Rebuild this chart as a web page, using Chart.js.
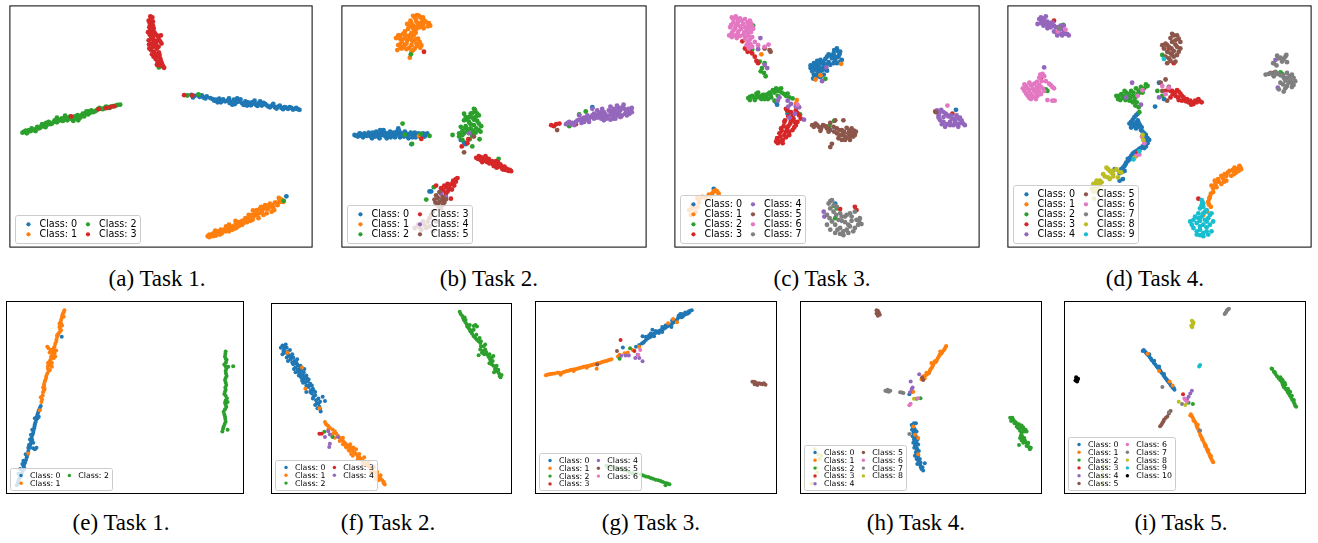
<!DOCTYPE html>
<html>
<head>
<meta charset="utf-8">
<script src="https://cdn.jsdelivr.net/npm/chart.js@4.4.1/dist/chart.umd.min.js"></script>
<style>
  html, body { margin: 0; padding: 0; background: #fff; }
  body { width: 1318px; height: 543px; position: relative; overflow: hidden; }
  canvas.panel { position: absolute; }
  .cap { position: absolute; width: 220px; text-align: center; font-family: "Liberation Serif", "Times New Roman", serif;
         font-size: 23px; line-height: 23px; color: #000; white-space: nowrap; }
</style>
</head>
<body>
<script>
// Embedding coordinates of each class (flat lists of x, y pairs).

// (a) Task 1
const A0 = [575,282, 585,285, 600,288, 612,290, 622,287, 640,295, 650,297, 660,300, 672,296, 685,300, 695,303, 705,297, 712,305, 722,300, 730,308, 740,302, 752,310, 760,305, 772,312, 780,308, 790,315, 800,310, 810,318, 820,315, 830,320, 840,318, 850,322, 860,320, 870,325, 880,322, 890,325, 900,326, 700,312, 745,315, 655,305, 825,310, 785,302, 690,293, 715,293, 487,195, 865,593,
  580,290, 595,283, 607,284, 618,293, 645,300, 665,305, 678,302, 692,307, 708,310, 718,303, 735,313, 748,305, 757,314, 766,308, 777,316, 795,307, 805,314, 815,320, 835,324, 845,315, 855,326, 865,322, 875,320, 885,327, 895,322, 905,328, 633,292, 660,294, 725,296, 768,300];
const A1 = [625,715, 635,712, 645,705, 650,713, 660,700, 668,706, 675,695, 685,690, 690,700, 700,685, 710,678, 712,690, 722,672, 730,680, 738,665, 745,672, 752,658, 762,665, 770,650, 775,635, 780,660, 790,640, 800,630, 805,645, 815,625, 825,628, 830,612, 838,620, 845,610, 852,605, 770,640, 760,650, 740,660, 720,684, 700,695, 800,620, 815,615, 690,680, 655,700, 640,708, 820,640, 785,630, 763,636, 630,718, 710,668, 795,650, 842,598,
  630,710, 642,715, 648,698, 662,710, 672,700, 680,700, 695,690, 705,692, 715,680, 728,672, 735,675, 748,662, 755,668, 765,655, 775,650, 782,645, 792,635, 808,632, 812,620, 822,620, 835,612, 848,602, 855,610, 730,668, 750,650, 717,675, 681,685, 665,695, 788,625, 828,635];
const A2 = [60,398, 70,392, 80,390, 88,385, 98,388, 105,380, 115,382, 125,378, 135,374, 140,365, 150,370, 158,360, 165,366, 175,358, 183,362, 192,356, 200,352, 210,356, 220,348, 228,344, 236,352, 244,340, 252,338, 260,342, 270,330, 280,333, 290,326, 300,325, 310,322, 320,320, 330,318, 345,315, 358,312, 120,372, 215,362, 230,360, 262,333, 100,393, 165,352, 190,346, 476,198, 563,284, 597,281, 857,607,
  65,395, 75,397, 85,393, 93,390, 110,385, 118,377, 130,381, 145,372, 155,365, 170,362, 180,354, 188,357, 197,360, 205,349, 215,350, 225,355, 240,345, 248,348, 255,333, 265,338, 275,335, 285,330, 295,322, 305,326, 315,318, 325,322, 335,317, 350,313, 73,400, 132,368];
const A3 = [450,42, 456,45, 445,55, 458,58, 452,68, 447,75, 460,78, 455,88, 465,95, 448,98, 470,100, 482,100, 458,105, 445,115, 462,115, 475,112, 452,125, 468,128, 484,125, 458,135, 447,140, 470,140, 462,150, 476,152, 455,158, 468,165, 480,170, 472,180, 485,185, 478,192, 492,199, 466,172, 460,120, 453,85, 553,283, 578,284, 208,348, 292,326, 315,323, 328,320, 340,317,
  452,50, 448,62, 458,70, 450,82, 462,90, 443,90, 455,95, 475,105, 452,110, 468,118, 480,118, 446,128, 462,132, 475,135, 452,145, 465,158, 478,160, 470,190, 482,178, 460,165, 488,193];

// (b) Task 2
const B0 = [62,405, 72,410, 80,402, 88,412, 95,405, 105,398, 112,410, 120,404, 128,395, 135,410, 142,400, 150,390, 155,408, 165,402, 172,412, 180,398, 188,405, 195,385, 200,412, 208,400, 215,395, 222,408, 230,402, 238,412, 245,398, 252,405, 260,410, 270,400, 278,405, 190,395, 140,390, 115,415, 160,415, 235,433, 385,420, 395,428, 400,433, 785,320, 290,578, 295,578,
  67,407, 77,400, 84,408, 92,400, 100,408, 108,403, 117,398, 125,410, 132,402, 138,415, 147,405, 153,398, 160,400, 168,408, 176,405, 185,412, 193,400, 203,405, 212,410, 218,400, 226,415, 233,398, 242,405, 248,412, 256,400, 265,405, 275,410, 283,400, 198,393, 170,395];
const B1 = [240,40, 252,38, 262,45, 248,50, 232,55, 275,55, 288,62, 270,68, 255,62, 222,65, 240,70, 285,72, 260,75, 225,80, 245,85, 235,92, 210,95, 195,100, 188,108, 200,110, 215,105, 228,110, 242,100, 255,110, 205,120, 220,125, 238,118, 250,125, 195,130, 212,135, 228,138, 245,140, 262,138, 192,145, 235,150, 230,168, 218,100, 205,140, 270,45, 250,80, 258,408, 797,344,
  245,45, 258,40, 268,52, 280,60, 292,70, 265,62, 250,58, 235,62, 228,72, 252,72, 272,78, 240,78, 215,88, 230,100, 248,92, 200,100, 208,112, 222,115, 235,110, 248,112, 260,120, 200,128, 215,128, 235,130, 252,132, 202,138, 220,142, 240,145, 265,130];
const B2 = [425,325, 430,335, 415,340, 400,350, 440,345, 420,352, 395,360, 410,365, 435,362, 447,378, 425,375, 400,378, 415,385, 440,390, 390,392, 405,395, 430,398, 395,340, 385,380, 360,405, 380,400, 442,418, 412,418, 420,440, 390,420, 380,410, 500,478, 233,158, 208,370, 215,404, 237,432, 263,402, 290,408, 745,342, 765,333, 715,378, 303,565, 280,603,
  428,328, 420,338, 435,340, 410,350, 430,350, 405,358, 425,358, 415,372, 440,370, 432,385, 408,388, 422,392, 445,395, 398,385, 395,400, 418,400, 420,408, 390,405];
const B3 = [432,475, 440,470, 445,482, 455,478, 460,470, 465,488, 475,485, 480,492, 490,490, 495,498, 500,502, 505,495, 510,505, 515,510, 522,508, 530,515, 538,516, 470,478, 485,500, 462,480, 450,488, 498,488, 518,502, 375,537, 370,548, 360,552, 345,555, 365,560, 335,560, 350,570, 325,568, 340,585, 355,600, 330,598, 310,560, 273,150, 265,417, 408,418, 388,440, 405,430, 660,375, 668,378, 675,372, 685,370, 735,372, 872,348,
  437,478, 448,474, 452,485, 458,484, 468,482, 472,492, 480,485, 488,495, 492,485, 502,495, 508,500, 512,510, 520,512, 526,510, 534,512, 494,505, 362,545, 352,558, 340,565, 332,575, 345,578, 358,572, 370,540];
const B4 = [705,372, 715,365, 725,368, 740,360, 755,355, 765,358, 770,345, 780,350, 790,340, 800,352, 810,345, 820,335, 830,350, 835,330, 845,340, 850,325, 855,355, 862,345, 870,330, 878,320, 885,340, 892,328, 900,330, 905,322, 880,312, 860,315, 840,358, 820,360, 800,330, 815,325, 785,325, 775,365, 752,368, 730,375, 745,345, 870,350, 890,345, 840,318, 410,400, 340,595, 325,585,
  710,368, 720,372, 735,365, 748,358, 760,352, 768,352, 775,355, 785,345, 795,345, 805,340, 812,335, 818,348, 825,342, 838,345, 842,332, 850,345, 855,335, 865,338, 868,322, 875,345, 882,325, 888,335, 895,325, 898,340, 905,335, 858,325, 848,355, 828,355, 812,355, 790,355, 760,365];
const B5 = [320,580, 310,590, 330,595, 305,603, 320,610, 340,602, 315,620, 325,630, 300,640, 290,660, 270,670, 280,690, 255,680, 265,695, 245,690, 300,700, 310,670, 395,458, 425,410, 678,390,
  315,598, 328,605, 335,612, 308,612, 318,625, 330,620, 295,650, 285,670, 275,682, 260,688, 290,685];

// (c) Task 3
const C0 = [520,140, 530,150, 510,155, 495,158, 525,165, 505,170, 485,172, 470,175, 515,178, 495,182, 475,185, 460,188, 440,192, 455,195, 480,195, 500,190, 530,180, 460,205, 445,210, 470,210, 490,208, 455,222, 470,228, 448,232, 480,220, 535,175, 460,178, 370,340, 335,305, 338,312, 883,328, 515,615, 500,390, 145,570,
  522,148, 512,145, 528,158, 518,168, 502,162, 490,165, 478,180, 465,182, 450,185, 448,198, 465,195, 488,188, 510,185, 520,185, 468,200, 455,205, 478,205, 462,215, 450,220, 462,225, 440,200, 515,165];
const C1 = [145,578, 155,578, 140,585, 160,585, 130,588, 110,595, 95,598, 80,620, 70,635, 90,640, 75,650, 100,612, 533,187, 470,222, 455,235, 290,158, 398,298, 395,310,
  150,575, 135,592, 120,598, 100,605, 88,625, 78,630, 95,625];
const C2 = [250,292, 262,285, 275,278, 285,290, 295,282, 305,288, 315,275, 325,268, 335,262, 345,270, 320,290, 300,295, 270,298, 340,285, 360,280, 375,290, 385,293, 280,275, 350,262, 330,300, 265,70, 262,143, 285,180, 300,185, 288,210, 298,215, 303,225, 292,200, 485,233, 368,330, 408,342, 512,362, 497,377, 510,622, 520,630, 515,660,
  255,288, 268,290, 278,285, 290,285, 300,282, 310,280, 318,282, 330,275, 338,270, 352,275, 365,285, 370,278, 290,295, 255,298, 310,295, 275,290, 340,265];
const C3 = [365,325, 380,335, 395,330, 405,345, 372,348, 388,355, 410,355, 360,365, 378,370, 395,375, 350,385, 368,385, 385,390, 345,400, 360,405, 375,405, 338,415, 355,420, 340,430, 365,395, 400,365, 232,118, 248,150, 262,155, 270,165, 275,178, 280,185, 255,148, 240,140, 820,333, 872,340, 575,625, 580,635, 530,632,
  370,330, 385,345, 400,338, 380,362, 392,365, 372,378, 358,378, 352,392, 375,395, 390,382, 348,410, 365,412, 345,425, 335,425, 355,430, 362,360];
const C4 = [825,330, 838,328, 852,340, 830,345, 845,350, 860,348, 870,355, 885,345, 895,352, 880,365, 900,368, 910,375, 875,375, 890,380, 840,372, 850,380, 835,360, 865,365, 900,360, 287,108, 280,142, 300,190, 308,200, 488,198, 475,240, 345,290, 340,300, 370,300, 380,310, 372,318, 395,318, 405,320, 420,358, 375,352, 392,340, 480,640, 482,655,
  832,338, 845,335, 858,345, 868,345, 878,355, 890,355, 905,370, 892,370, 882,372, 865,375, 855,372, 845,365, 830,352];
const C5 = [445,375, 455,370, 465,380, 478,375, 490,385, 470,392, 500,368, 540,360, 520,385, 535,390, 550,383, 565,385, 578,395, 520,400, 535,405, 555,400, 570,410, 525,415, 545,420, 560,420, 505,432, 500,442, 495,395, 510,380, 515,360, 315,145, 318,150, 300,140, 822,335,
  450,380, 460,375, 472,385, 485,378, 495,385, 528,390, 542,395, 558,392, 572,392, 528,405, 545,410, 560,410, 575,405, 535,420, 552,413, 512,395, 540,400, 565,400];
const C6 = [200,45, 212,42, 225,48, 240,50, 255,55, 205,60, 218,62, 235,65, 250,68, 262,72, 195,75, 210,78, 228,80, 245,85, 258,90, 200,92, 218,95, 235,98, 250,100, 262,105, 192,100, 215,108, 240,110, 255,125, 262,135, 270,120, 245,130, 252,140, 300,135, 312,128, 280,130, 265,80, 400,312, 857,315,
  205,50, 218,52, 230,55, 248,60, 258,62, 198,68, 212,70, 225,72, 240,75, 252,78, 205,85, 220,88, 238,90, 250,92, 210,100, 225,102, 242,105, 200,105, 255,112, 248,120, 258,130];
const C7 = [505,605, 495,615, 520,625, 510,640, 490,650, 530,645, 545,655, 560,645, 575,640, 590,660, 525,665, 545,672, 565,668, 585,680, 505,670, 490,680, 530,690, 550,695, 570,700, 540,712, 515,705, 500,695, 560,685, 595,678,
  500,608, 512,620, 500,630, 518,650, 535,655, 550,650, 565,655, 580,665, 535,668, 555,680, 575,690, 515,680, 522,695, 540,700, 555,705, 530,708, 588,668, 498,660];

// (d) Task 4
const D0 = [420,345, 410,358, 425,360, 400,370, 415,372, 432,375, 420,385, 435,390, 445,400, 440,410, 455,415, 448,425, 455,430, 440,440, 430,448, 420,455, 410,462, 405,470, 400,480, 390,490, 385,500, 375,510, 385,515, 370,522, 425,340, 405,382, 450,440, 490,245, 478,318, 505,295, 355,510, 380,540, 370,545,
  415,350, 405,365, 420,368, 428,368, 410,378, 425,380, 440,395, 450,405, 448,415, 460,420, 450,432, 445,445, 435,445, 425,452, 415,458, 408,468, 402,475, 395,485, 388,495, 380,505, 378,518, 395,478, 437,382];
const D1 = [735,500, 740,510, 720,505, 705,515, 725,520, 690,525, 710,530, 680,530, 670,540, 695,545, 660,545, 680,555, 650,560, 665,565, 655,580, 645,595, 640,610, 648,625, 637,640, 625,650,
  738,505, 728,510, 715,512, 700,520, 718,525, 695,530, 685,538, 672,548, 688,548, 662,555, 655,568, 648,585, 643,600, 642,618, 732,515];
const D2 = [360,285, 375,280, 390,275, 405,270, 420,262, 435,258, 450,250, 365,295, 380,292, 395,290, 410,285, 425,280, 440,270, 415,300, 400,300, 385,270, 418,315, 428,320, 440,275, 198,68, 500,160, 150,270, 145,265, 860,213, 865,218, 485,270, 500,285, 430,335,
  368,285, 382,285, 398,280, 412,275, 428,270, 445,262, 455,255, 372,298, 388,298, 403,292, 418,290, 432,275, 410,305, 422,305];
const D3 = [520,265, 530,270, 545,268, 555,278, 540,285, 565,290, 575,295, 585,300, 600,300, 615,302, 595,310, 580,305, 560,300, 550,298, 525,290, 510,270, 170,55, 520,140, 535,185, 130,230, 840,215, 610,600, 425,460,
  525,270, 538,275, 550,272, 560,285, 548,290, 570,298, 590,305, 605,305, 610,295, 620,305, 588,312, 572,302, 532,280];
const D4 = [130,45, 145,42, 135,55, 150,58, 120,65, 138,70, 155,68, 165,60, 175,75, 190,70, 185,85, 200,90, 210,95, 195,100, 180,100, 170,88, 150,78, 215,100, 200,70, 140,198, 838,185, 845,175, 852,260, 408,245, 390,290, 435,312, 490,290,
  125,50, 140,48, 130,62, 145,65, 160,62, 170,70, 182,75, 192,80, 205,95, 190,95, 178,92, 160,75, 140,58];
const D5 = [530,95, 545,100, 525,108, 540,115, 555,120, 510,125, 500,130, 520,135, 545,135, 535,148, 515,150, 530,160, 545,160, 520,170, 515,185, 540,180, 555,140, 505,140, 510,235, 495,245, 500,270, 515,300, 520,258,
  535,100, 550,110, 530,120, 515,130, 540,128, 528,140, 550,150, 525,155, 535,165, 525,178, 510,165];
const D6 = [80,250, 95,245, 110,248, 125,252, 75,262, 90,262, 105,262, 120,265, 135,262, 85,278, 100,280, 115,275, 130,280, 95,292, 110,290, 125,230, 135,218, 145,240, 160,252, 170,262, 150,298, 172,300, 140,225, 128,220, 182,88, 205,82, 440,268, 425,285, 520,260, 500,255, 510,280, 438,410, 445,430, 430,465, 420,470,
  85,255, 100,252, 118,258, 130,258, 80,270, 95,270, 110,270, 125,272, 140,270, 90,285, 105,285, 120,285, 100,295, 115,295, 132,240, 155,248, 165,258, 165,300, 130,225, 118,242];
const D7 = [850,162, 860,168, 875,165, 865,180, 880,182, 840,185, 830,215, 815,220, 845,212, 860,222, 880,215, 895,220, 870,230, 890,238, 905,240, 860,245, 880,255, 900,252, 855,265, 870,272, 840,225, 185,78,
  855,170, 870,172, 878,160, 848,192, 825,218, 838,220, 852,218, 868,222, 888,225, 900,230, 875,238, 885,245, 895,245, 868,250, 875,262, 895,258, 880,230];
const D8 = [330,505, 340,515, 360,510, 375,520, 350,525, 320,525, 335,535, 365,535, 300,545, 315,550, 290,555, 305,565, 285,570, 300,580, 292,600, 440,405, 442,420, 415,475,
  335,510, 348,515, 368,518, 345,520, 325,532, 350,532, 340,540, 310,545, 298,552, 308,558, 295,565, 290,578, 305,575];
const D9 = [620,605, 625,615, 615,630, 630,640, 650,645, 600,655, 620,655, 640,660, 585,670, 605,675, 625,680, 645,680, 595,690, 615,695, 635,700, 605,710, 625,715, 650,700, 505,172, 412,480, 430,455,
  622,610, 620,620, 625,625, 635,635, 610,645, 625,645, 645,650, 610,660, 630,665, 595,665, 615,668, 635,670, 655,670, 590,680, 615,685, 635,688, 605,700, 625,705, 615,712, 640,710];

// (e) Task 1
const E0 = [118,342, 112,355, 108,368, 112,375, 104,385, 100,398, 98,410, 95,425, 90,440, 88,455, 85,470, 100,475, 78,490, 75,500, 70,515, 65,525, 68,535, 60,548, 55,560, 50,572, 45,585, 82,462, 182,130,
  115,348, 110,362, 106,375, 108,380, 102,392, 99,404, 96,418, 92,432, 92,446, 86,462, 80,480, 95,472, 76,495, 73,508, 68,520, 67,530, 63,540, 58,555, 52,565, 48,578,
  100,380, 92,415, 88,430, 85,445, 95,455, 80,470, 72,490, 65,510, 62,520, 55,535, 50,550, 105,470];
const E1 = [190,48, 185,60, 182,72, 178,85, 183,95, 175,100, 180,110, 172,120, 168,130, 165,145, 160,160, 155,168, 148,175, 155,185, 150,195, 145,205, 152,210, 140,220, 142,235, 135,250, 132,262, 128,275, 130,290, 125,300, 122,322, 160,180, 138,160, 115,355, 80,488, 58,578,
  188,55, 183,66, 180,78, 180,90, 178,97, 177,105, 176,115, 170,125, 166,138, 162,152, 158,164, 152,172, 152,180, 150,190, 148,200, 148,208, 145,215, 140,228, 138,242, 134,256, 130,268, 128,282, 127,295, 124,310, 120,330, 158,175, 145,178,
  142,165, 150,170, 165,172, 158,195, 162,190, 140,210, 152,222, 146,232, 168,125, 175,90, 188,68, 125,285, 118,315];
const E2 = [682,175, 680,190, 685,200, 678,215, 690,222, 705,220, 682,235, 685,250, 680,262, 684,278, 682,292, 678,305, 686,318, 680,332, 684,345, 676,360, 680,375, 682,390, 676,405, 672,420, 688,415, 688,330,
  681,182, 682,197, 683,208, 682,220, 684,228, 683,242, 682,256, 682,270, 681,285, 680,298, 682,311, 682,325, 682,338, 680,352, 678,368, 681,382, 679,397, 674,412];

// (f) Task 2
const F0 = [55,158, 65,155, 60,170, 70,178, 75,190, 85,185, 80,200, 92,205, 100,215, 95,225, 108,230, 120,240, 130,258, 125,270, 140,275, 135,285, 148,290, 155,300, 150,315, 165,320, 160,335, 168,345, 172,360, 185,328, 115,265, 145,305,
  60,162, 58,175, 68,165, 72,185, 80,192, 88,195, 85,210, 97,210, 103,220, 102,232, 112,235, 118,250, 128,250, 122,260, 132,268, 138,280, 142,295, 150,295, 155,310, 158,325, 165,335, 170,352, 78,172, 110,245,
  50,165, 62,180, 55,185, 68,195, 72,205, 88,215, 95,240, 105,250, 112,255, 118,272, 128,280, 140,300, 148,320, 155,340, 162,350, 90,230, 100,200, 110,220, 122,230, 135,262, 145,280, 128,300, 120,255, 105,240, 170,330, 178,315];
const F1 = [185,392, 192,402, 200,410, 215,420, 225,435, 235,445, 245,455, 255,465, 265,470, 270,480, 280,490, 290,500, 300,510, 310,520, 320,530, 330,540, 340,550, 350,560, 360,570, 368,583, 265,490, 280,475, 70,180, 115,225, 125,290, 168,350,
  188,398, 196,405, 208,415, 220,428, 230,440, 240,450, 250,460, 260,468, 268,475, 275,485, 285,495, 295,505, 305,515, 315,525, 325,535, 335,545, 345,555, 355,565, 364,578, 240,460, 270,495, 300,520, 330,548, 348,570, 260,480,
  195,415, 210,428, 230,450, 248,465, 258,478, 272,470, 290,490, 305,500, 318,515, 335,530, 345,545, 355,555, 365,575, 340,565, 325,545, 285,505, 262,460, 240,440, 215,440, 250,470];
const F2 = [597,55, 605,68, 610,80, 618,92, 625,105, 630,115, 645,95, 640,130, 650,140, 660,150, 655,188, 665,180, 675,170, 680,185, 690,200, 695,215, 700,190, 705,230, 715,240, 720,252, 710,235, 183,422, 208,438,
  600,62, 608,75, 614,86, 622,98, 628,110, 635,122, 645,135, 655,145, 662,160, 668,175, 672,185, 685,192, 692,208, 700,220, 708,228, 718,245, 722,255, 650,100, 660,170, 635,112,
  615,80, 620,100, 628,95, 640,110, 648,125, 658,135, 662,145, 670,160, 675,155, 678,178, 688,185, 695,195, 698,205, 710,220, 715,232, 725,248, 702,240, 688,212, 640,98, 612,72];
const F3 = [168,428, 175,428];
const F4 = [195,420, 200,430, 185,438, 225,438, 200,458, 198,468];

// (g) Task 3
const G0 = [495,50, 488,58, 478,62, 470,70, 460,65, 455,78, 445,85, 435,95, 425,98, 415,105, 405,110, 395,115, 385,120, 375,130, 365,135, 355,145, 348,150, 330,160, 350,128, 380,108, 440,80, 290,163,
  492,55, 483,60, 474,66, 465,70, 450,82, 440,90, 430,95, 420,102, 410,108, 400,112, 390,118, 380,125, 370,132, 360,140, 352,148, 340,155, 465,60, 420,95, 400,118, 370,125,
  360,130, 375,120, 390,112, 410,100, 428,92, 445,78, 458,72, 470,60, 480,55, 490,52, 500,48, 385,128, 410,115, 438,100];
const G1 = [55,248, 65,245, 75,243, 90,240, 100,242, 110,238, 120,235, 130,232, 140,230, 150,228, 160,225, 170,222, 180,220, 190,218, 200,215, 210,212, 220,210, 230,206, 240,204, 250,200, 210,228, 280,185, 295,180, 305,178, 275,190, 340,160, 320,170, 443,75, 455,85, 428,88,
  60,246, 70,244, 82,242, 95,240, 105,240, 115,236, 125,234, 135,231, 145,229, 155,226, 165,224, 175,221, 185,219, 195,216, 205,214, 215,211, 225,208, 235,205, 245,202, 255,199, 180,225, 140,235, 100,246];
const G2 = [345,552, 360,558, 375,563, 390,568, 405,572, 420,578, 432,582, 320,548, 300,540, 280,535, 260,530, 240,525, 280,197, 312,165,
  352,555, 368,560, 382,565, 398,570, 412,575, 426,580, 332,550, 310,545, 290,538, 270,532, 250,528, 420,585];
const G3 = [283,140, 325,173];
const G4 = [285,188, 298,187, 308,187, 335,185, 340,195, 350,205, 328,195];
const G5 = [685,268, 695,270, 705,272, 715,275, 725,277, 700,278, 212,215, 272,173, 690,268, 710,274, 720,272, 692,275];
const G6 = [343,170, 337,185];

// (h) Task 4
const H0 = [372,395, 368,405, 375,415, 370,425, 378,435, 372,445, 380,455, 375,465, 382,475, 378,485, 385,495, 380,505, 388,515, 392,525, 395,535, 405,518, 418,240, 358,306,
  370,400, 372,410, 372,420, 374,430, 375,440, 378,450, 377,460, 380,470, 380,480, 382,490, 382,500, 385,510, 390,520, 393,530, 378,395,
  365,400, 366,415, 380,420, 368,435, 383,445, 370,455, 385,460, 373,470, 387,480, 375,495, 390,505, 392,515, 382,520, 398,530, 400,540];
const H1 = [470,158, 465,168, 458,178, 450,185, 445,195, 440,205, 432,212, 428,222, 422,230, 418,240, 408,248, 400,252, 395,260, 405,258, 410,240, 425,210, 370,298, 365,300, 370,405, 375,430, 385,440, 385,490,
  468,162, 462,172, 455,182, 448,190, 442,200, 437,208, 430,217, 425,226, 420,235, 413,244, 403,250, 398,256, 435,205, 452,175];
const H2 = [665,378, 675,385, 685,395, 700,402, 690,410, 712,415, 700,425, 695,440, 710,448, 718,460, 725,475, 705,455, 692,462, 392,318, 380,320,
  670,382, 680,390, 692,398, 705,408, 708,420, 698,432, 702,445, 714,454, 722,468, 695,418,
  668,388, 678,395, 688,402, 695,410, 705,415, 715,420, 702,435, 708,440, 715,465, 720,455, 728,470, 685,405, 672,378, 700,448];
const H3 = [];
const H4 = [362,267, 365,290, 360,300, 368,285, 388,245];
const H5 = [258,48, 265,55, 262,65, 258,58, 268,62, 397,255, 400,262, 262,50, 263,60];
const H6 = [384,318, 358,340, 362,335];
const H7 = [285,295, 295,298, 300,295, 330,300, 340,302, 358,428, 290,297, 335,301, 292,292];
const H8 = [372,320, 70,475, 80,490, 90,495, 75,530, 78,545, 70,560, 60,580, 85,505];

// (i) Task 5
const I0 = [268,172, 275,180, 282,188, 290,198, 295,205, 300,212, 308,222, 315,230, 320,238, 328,248, 335,258, 340,265, 348,275, 355,285, 362,293,
  272,176, 278,184, 286,193, 292,202, 298,208, 304,217, 311,226, 318,234, 324,243, 331,253, 338,262, 344,270, 351,280, 358,289,
  265,175, 285,185, 300,205, 315,222, 330,245, 345,268, 360,288];
const I1 = [412,368, 418,380, 425,392, 430,405, 435,415, 440,430, 445,440, 452,455, 458,465, 462,478, 468,490, 472,500, 478,512, 280,183, 315,236, 347,268, 356,280,
  415,374, 421,386, 428,398, 432,410, 438,422, 442,435, 448,448, 455,460, 460,472, 465,484, 470,495, 475,506,
  410,372, 420,388, 433,400, 437,420, 447,445, 455,465, 465,478, 473,495, 480,515];
const I2 = [660,230, 670,245, 680,258, 690,270, 695,285, 705,295, 710,305, 718,318, 725,330, 730,342, 700,278, 715,300, 405,333, 418,337,
  665,238, 675,252, 685,264, 692,278, 700,290, 707,300, 714,312, 721,324, 728,336, 690,262,
  658,228, 668,240, 685,255, 692,265, 698,272, 708,290, 712,298, 720,312, 726,325, 733,345, 695,282];
const I3 = [388,307];
const I4 = [415,296, 410,305, 405,315, 400,322];
const I5 = [350,358, 340,375, 330,385, 325,395, 318,405, 345,366, 335,380, 328,390, 322,400];
const I6 = [395,325, 400,330, 392,320];
const I7 = [518,58, 522,50, 528,46, 515,62, 325,285, 440,418, 385,337, 345,362, 520,55, 525,48];
const I8 = [415,82, 418,92, 416,102, 420,88, 413,98, 375,330, 395,340, 145,525, 142,540, 138,560, 140,580, 417,85, 417,95];
const I9 = [437,222, 440,218];
const I10 = [62,255, 68,260, 65,268, 60,265, 64,258, 66,263];

// Class palette (tab10, then black for an eleventh class).
const CLASS_COLORS = ['#1f77b4', '#ff7f0e', '#2ca02c', '#d62728', '#9467bd', '#8c564b', '#e377c2', '#7f7f7f', '#bcbd22', '#17becf', '#000000'];

// Sub-figure layout: page origin, axis limits [xmin, ymin, xmax, ymax], caption.
const PANELS = [
  { classes: [A0, A1, A2, A3],                          origin: [0, 0],      lim: [20, 8, 945, 750], caption: '(a) Task 1.', capX: 157, row: 0 },
  { classes: [B0, B1, B2, B3, B4, B5],                  origin: [332, 0],    lim: [22, 8, 950, 750], caption: '(b) Task 2.', capX: 489, row: 0 },
  { classes: [C0, C1, C2, C3, C4, C5, C6, C7],          origin: [664, 0],    lim: [25, 8, 955, 750], caption: '(c) Task 3.', capX: 822, row: 0 },
  { classes: [D0, D1, D2, D3, D4, D5, D6, D7, D8, D9],  origin: [996, 0],    lim: [28, 8, 955, 750], caption: '(d) Task 4.', capX: 1155, row: 0 },
  { classes: [E0, E1, E2],                              origin: [0, 292],    lim: [12, 20, 738, 612], caption: '(e) Task 1.', capX: 121, row: 1 },
  { classes: [F0, F1, F2, F3, F4],                      origin: [262, 292],  lim: [20, 28, 757, 612], caption: '(f) Task 2.', capX: 388, row: 1 },
  { classes: [G0, G1, G2, G3, G4, G5, G6],              origin: [526, 292],  lim: [22, 20, 760, 612], caption: '(g) Task 3.', capX: 651, row: 1 },
  { classes: [H0, H1, H2, H3, H4, H5, H6, H7, H8],      origin: [790, 292],  lim: [25, 20, 762, 612], caption: '(h) Task 4.', capX: 916, row: 1 },
  { classes: [I0, I1, I2, I3, I4, I5, I6, I7, I8, I9, I10], origin: [1054, 292], lim: [25, 22, 763, 612], caption: '(i) Task 5.', capX: 1181, row: 1 }
];

// Style of each row of sub-figures.
const ROW_STYLE = [
  { pointRadius: 2.4, legendFont: 9.6, legendRow: 10.0, legendDot: 2.1, capBaseline: 286 },
  { pointRadius: 2.0, legendFont: 7.8, legendRow: 7.8,  legendDot: 1.7, capBaseline: 530 }
];

function toPoints(flat) {
  const out = [];
  for (let i = 0; i + 1 < flat.length; i += 2) out.push({ x: flat[i], y: flat[i + 1] });
  return out;
}

// Thin black frame around the plotting area.
const framePlugin = {
  id: 'frame',
  afterDraw(chart) {
    const { ctx, chartArea: a } = chart;
    ctx.save();
    ctx.strokeStyle = '#000';
    ctx.lineWidth = 1;
    ctx.strokeRect(a.left + 0.5, a.top + 0.5, a.right - a.left - 1, a.bottom - a.top - 1);
    ctx.restore();
  }
};

// Two-column legend in the lower-left corner of the axes, filled column by column.
const classLegend = {
  id: 'classLegend',
  afterDatasetsDraw(chart, args, opts) {
    const { ctx, chartArea: a } = chart;
    const sets = chart.data.datasets;
    const f = opts.font, rowH = opts.row;
    const nrows = Math.ceil(sets.length / 2);
    ctx.save();
    ctx.font = f + 'px "DejaVu Sans"';
    const col2W = Math.max(...sets.slice(nrows).map(d => ctx.measureText(d.label).width));
    const colStep = 6.2 * f;
    const w = colStep + 2.5 * f + col2W + 0.4 * f;
    const h = nrows * rowH + 0.8 * f;
    const x0 = Math.round(a.left + 0.55 * f) + 0.5;
    const y0 = Math.round(a.bottom - 0.5 * f - h) + 0.5;
    ctx.beginPath();
    ctx.roundRect(x0, y0, Math.round(w), Math.round(h), 0.25 * f);
    ctx.fillStyle = 'rgba(255,255,255,0.8)';
    ctx.fill();
    ctx.strokeStyle = '#cccccc';
    ctx.lineWidth = 1;
    ctx.stroke();
    ctx.textBaseline = 'middle';
    sets.forEach((d, i) => {
      const c = Math.floor(i / nrows), r = i % nrows;
      const cy = y0 + 0.4 * f + rowH * (r + 0.5);
      const cx = x0 + c * colStep;
      ctx.fillStyle = d.backgroundColor;
      ctx.beginPath();
      ctx.arc(cx + 1.35 * f, cy, opts.dot, 0, Math.PI * 2);
      ctx.fill();
      ctx.fillStyle = '#000';
      ctx.fillText(d.label, cx + 2.5 * f, cy + 0.5);
    });
    ctx.restore();
  }
};

PANELS.forEach(p => {
  const st = ROW_STYLE[p.row];
  const [xmin, ymin, xmax, ymax] = p.lim;
  const left = Math.round(p.origin[0] + xmin / 3);
  const top = Math.round(p.origin[1] + ymin / 3);
  const width = Math.round(p.origin[0] + xmax / 3) - left;
  const height = Math.round(p.origin[1] + ymax / 3) - top;

  const cv = document.createElement('canvas');
  cv.className = 'panel';
  cv.width = width; cv.height = height;
  cv.style.left = left + 'px'; cv.style.top = top + 'px';
  cv.style.width = width + 'px'; cv.style.height = height + 'px';
  document.body.appendChild(cv);

  const n = p.classes.length;
  new Chart(cv.getContext('2d'), {
    type: 'scatter',
    data: {
      datasets: p.classes.map((pts, i) => ({
        label: 'Class: ' + i,
        data: toPoints(pts),
        backgroundColor: CLASS_COLORS[i],
        borderWidth: 0,
        pointRadius: st.pointRadius,
        pointHoverRadius: st.pointRadius,
        order: n - i
      }))
    },
    options: {
      responsive: false,
      animation: false,
      devicePixelRatio: 1,
      events: [],
      layout: { padding: 0 },
      plugins: {
        legend: { display: false },
        tooltip: { enabled: false },
        classLegend: { font: st.legendFont, row: st.legendRow, dot: st.legendDot }
      },
      scales: {
        x: { type: 'linear', min: xmin, max: xmax, display: false },
        y: { type: 'linear', min: ymin, max: ymax, reverse: true, display: false }
      }
    },
    plugins: [classLegend, framePlugin]
  });

  const cap = document.createElement('div');
  cap.className = 'cap';
  cap.textContent = p.caption;
  cap.style.left = (p.capX - 110) + 'px';
  cap.style.top = (st.capBaseline - 19.3) + 'px';
  document.body.appendChild(cap);
});
</script>
</body>
</html>
